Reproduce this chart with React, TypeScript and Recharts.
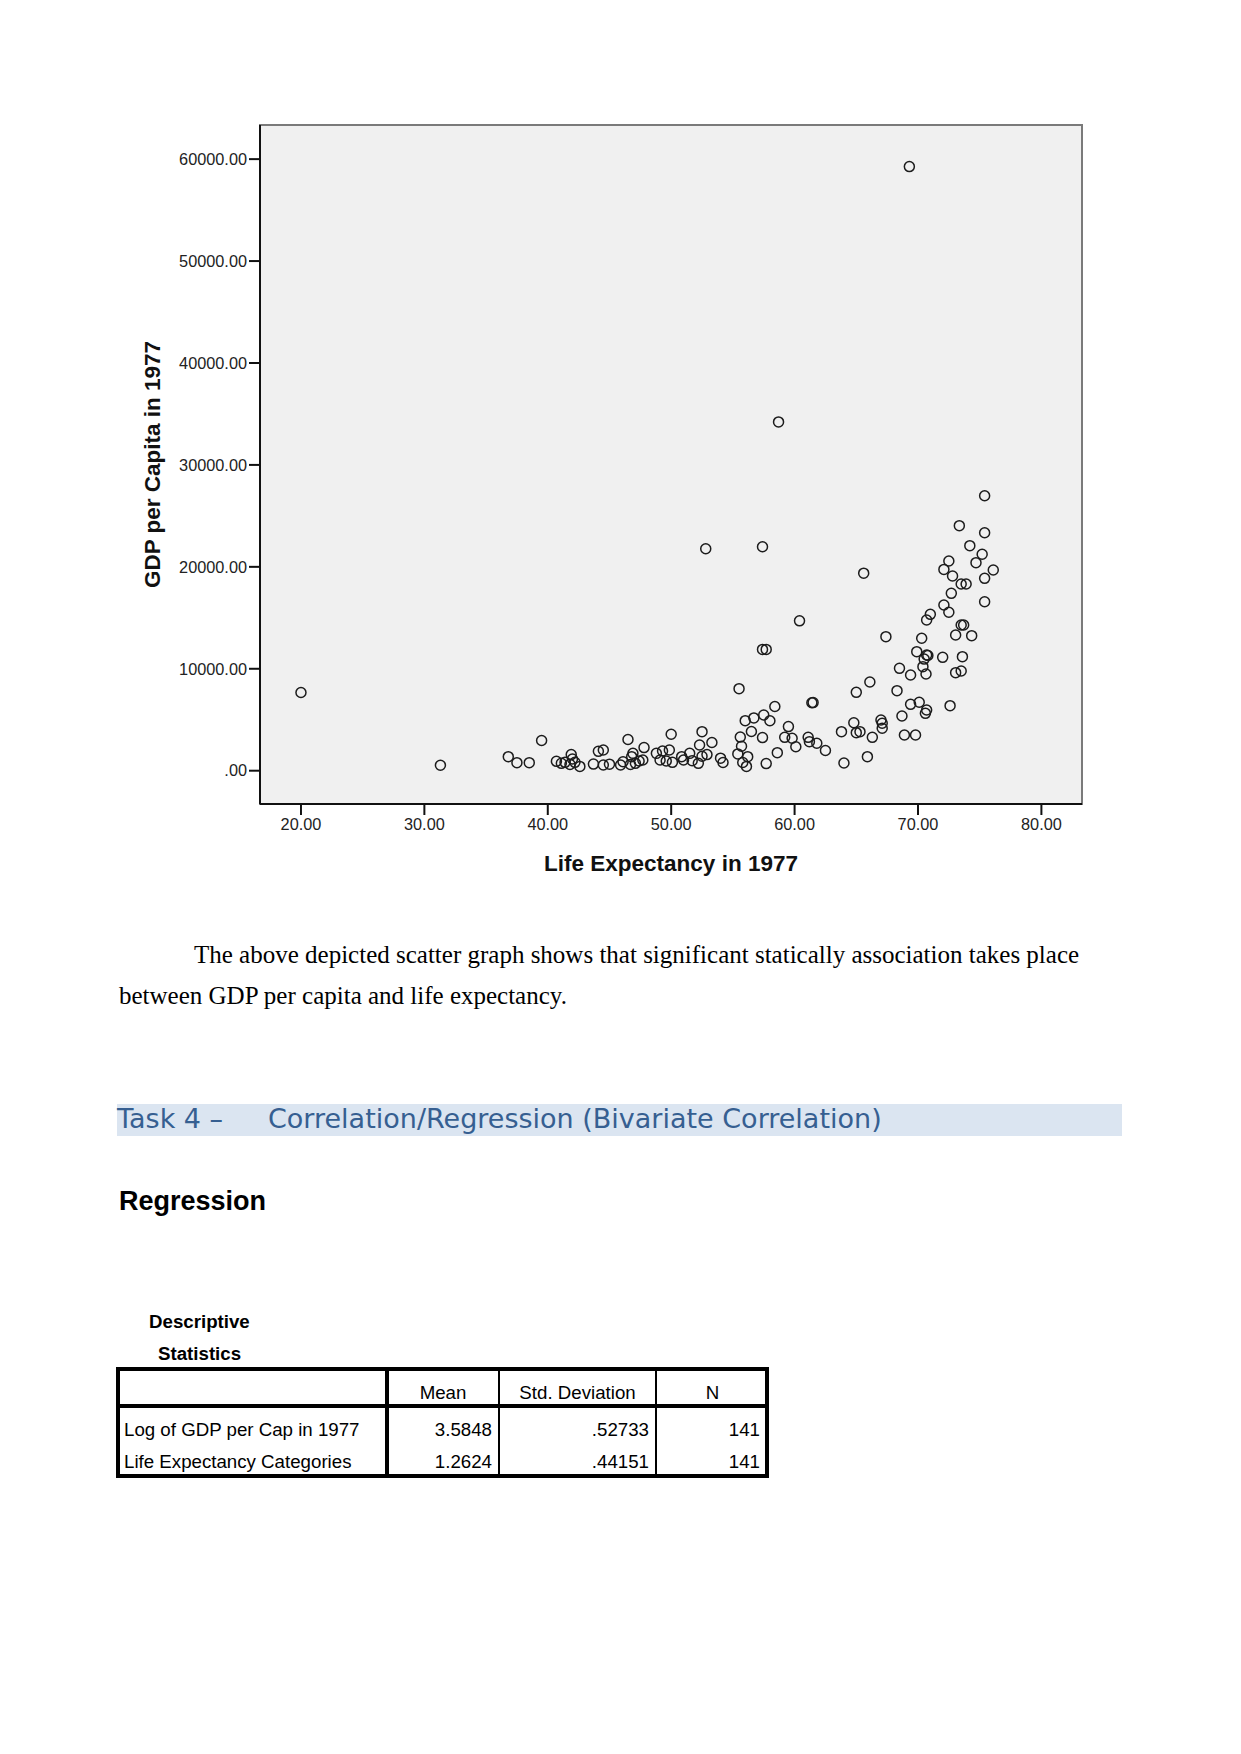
import React from 'react';
import { ScatterChart, Scatter, XAxis, YAxis, ReferenceArea } from 'recharts';

// Life expectancy in 1977 (x) and GDP per capita in 1977 (y)
const lifeExpectancy: number[] = [
  20.0, 31.3, 36.8, 37.5, 38.5, 39.5, 40.7, 41.1, 41.4, 41.8, 41.9, 42.0, 42.2, 42.6, 43.7, 44.1, 44.5, 44.5, 45.0, 45.9,
  46.1, 46.5, 46.8, 46.9, 46.7, 47.1, 47.4, 47.8, 47.7, 48.8, 49.3, 49.85, 49.1, 49.6, 50.1, 50.0, 50.85, 51.5, 51.0, 51.7,
  52.2, 52.5, 52.3, 53.3, 52.9, 52.5, 52.8, 54.0, 54.2,
  60.4, 57.4, 57.7, 55.5, 66.1, 65.0, 61.4, 61.5, 58.4, 57.5, 56.7, 56.0, 58.0, 56.5, 55.6, 57.4, 55.7, 55.4, 56.2, 55.8,
  56.1, 57.7, 58.6, 59.5, 59.2, 59.8, 60.1, 61.1, 61.2, 61.8, 62.5, 63.8, 64.8, 65.0, 65.3, 64.0, 65.9, 66.3, 67.0, 67.1,
  67.1, 68.9, 69.8,
  75.4, 73.35, 75.4, 74.2, 75.2, 74.7, 72.5, 72.1, 76.1, 72.8, 75.4, 73.5, 73.9, 72.7, 75.4, 72.1, 72.5, 71.0, 70.7, 73.5,
  73.7, 67.4, 73.05, 74.35, 70.3, 69.9, 70.7, 70.5, 70.4, 70.65, 72.0, 73.6, 68.5, 69.4, 73.05, 73.5, 68.3, 69.4, 70.1, 70.7,
  70.6, 72.6, 68.7,
  69.3, 58.7, 57.4, 65.6, 70.8,
];

const gdpPerCapita: number[] = [
  7670, 540, 1380, 790, 790, 2960, 920, 720, 820, 620, 1580, 1150, 820, 420, 650, 1900, 2030, 560, 640, 560,
  880, 3060, 1380, 1700, 620, 720, 950, 2270, 1050, 1700, 1930, 2030, 1050, 950, 820, 3580, 1380, 1700, 1050, 985,
  720, 3830, 2520, 2770, 1580, 1420, 21770, 1230, 800,
  14700, 11900, 11900, 8050, 8700, 7690, 6670, 6680, 6300, 5460, 5180, 4910, 4900, 3850, 3300, 3250, 2400, 1650, 1380, 800,
  420, 700, 1770, 4330, 3270, 3180, 2350, 3270, 2850, 2690, 1980, 3830, 4710, 3730, 3830, 750, 1380, 3270, 4970, 4650,
  4160, 3500, 3500,
  26980, 24040, 23350, 22080, 21230, 20410, 20570, 19750, 19690, 19100, 18870, 18320, 18320, 17400, 16580, 16260, 15540, 15340, 14780, 14290,
  14290, 13150, 13310, 13250, 12990, 11680, 11350, 10950, 10210, 9490, 11120, 11190, 10040, 9390, 9620, 9780, 7850, 6510, 6710, 5960,
  5630, 6380, 5370,
  59270, 34220, 21970, 19380, 11300,
];

const xTicks: number[] = [20, 30, 40, 50, 60, 70, 80];
const yTicks: number[] = [0, 10000, 20000, 30000, 40000, 50000, 60000];
const xDomain: [number, number] = [16.68, 83.29];
const yDomain: [number, number] = [-3267, 63348];

const tableHeaders: string[] = ['', 'Mean', 'Std. Deviation', 'N'];
const tableRowLabels: string[] = ['Log of GDP per Cap in 1977', 'Life Expectancy Categories'];
const tableMeans: string[] = ['3.5848', '1.2624'];
const tableStdDevs: string[] = ['.52733', '.44151'];
const tableNs: string[] = ['141', '141'];

const points = lifeExpectancy.map((x, i) => ({ x, y: gdpPerCapita[i] }));

const RingShape = (props: any) => {
  const { cx, cy } = props;
  if (cx == null || cy == null) return null;
  return <circle cx={cx} cy={cy} r={5} fill="none" stroke="#1c1c1c" strokeWidth={1.5} />;
};

const sans = '"Liberation Sans", Arial, sans-serif';
const serif = '"Liberation Serif", "Times New Roman", serif';
const headingFont = '"DejaVu Sans", sans-serif';

const abs = (left: number, top: number, extra: React.CSSProperties = {}): React.CSSProperties => ({
  position: 'absolute',
  left,
  top,
  whiteSpace: 'nowrap',
  ...extra,
});

export default function App() {
  const colX = [116, 387, 499, 656, 769];
  const tableTop = 1367;
  const headerSep = 1405.5;
  const tableBottom = 1478;
  const rowCenters = [1430, 1462];
  const cell: React.CSSProperties = { fontFamily: sans, fontSize: 18.7, lineHeight: '22px', color: '#000' };

  return (
    <div style={{ position: 'absolute', left: 0, top: 0, width: 1241, height: 1754, background: '#fff', overflow: 'hidden' }}>
      <div style={{ position: 'absolute', left: 0, top: 0 }}>
        <ScatterChart width={1241} height={900} margin={{ top: 125, right: 159, bottom: 29, left: 130 }}>
          <ReferenceArea
            x1={xDomain[0]}
            x2={xDomain[1]}
            y1={yDomain[0]}
            y2={yDomain[1]}
            fill="#f0f0f0"
            fillOpacity={1}
            stroke="#7a7a7a"
            strokeWidth={2}
          />
          <XAxis
            type="number"
            dataKey="x"
            domain={xDomain}
            allowDataOverflow
            ticks={xTicks}
            interval={0}
            height={67}
            tickSize={11}
            tickMargin={3}
            tickFormatter={(v: number) => v.toFixed(2)}
            axisLine={{ stroke: '#111', strokeWidth: 2 }}
            tickLine={{ stroke: '#111', strokeWidth: 2 }}
            tick={{ fill: '#222', fontSize: 16.3, fontFamily: sans }}
            label={{
              value: 'Life Expectancy in 1977',
              position: 'insideBottom',
              offset: 0,
              fill: '#111',
              style: { fontWeight: 'bold', fontSize: 22.5, fontFamily: sans, fill: '#111' },
            }}
          />
          <YAxis
            type="number"
            dataKey="y"
            domain={yDomain}
            allowDataOverflow
            ticks={yTicks}
            interval={0}
            width={130}
            tickSize={11}
            tickMargin={2}
            tickFormatter={(v: number) => (v === 0 ? '.00' : v.toFixed(2))}
            axisLine={{ stroke: '#111', strokeWidth: 2 }}
            tickLine={{ stroke: '#111', strokeWidth: 2 }}
            tick={{ fill: '#222', fontSize: 16.3, fontFamily: sans }}
            label={{
              value: 'GDP per Capita in 1977',
              angle: -90,
              position: 'insideLeft',
              offset: 22,
              fill: '#111',
              style: { textAnchor: 'middle', fontWeight: 'bold', fontSize: 22.5, fontFamily: sans, fill: '#111' },
            }}
          />
          <Scatter data={points} shape={RingShape} isAnimationActive={false} />
        </ScatterChart>
      </div>

      {/* Paragraph */}
      <div style={abs(194, 940, { fontFamily: serif, fontSize: 25, lineHeight: '30px', color: '#000' })}>
        The above depicted scatter graph shows that significant statically association takes place
      </div>
      <div style={abs(119, 981, { fontFamily: serif, fontSize: 25, lineHeight: '30px', color: '#000' })}>
        between GDP per capita and life expectancy.
      </div>

      {/* Heading band */}
      <div style={abs(117, 1104, { width: 1005, height: 32, background: '#dbe5f1' })} />
      <div style={abs(117, 1103, { fontFamily: headingFont, fontSize: 27, lineHeight: '32px', color: '#365f91' })}>
        Task 4 –
      </div>
      <div style={abs(268, 1103, { fontFamily: headingFont, fontSize: 27, lineHeight: '32px', color: '#365f91' })}>
        Correlation/Regression (Bivariate Correlation)
      </div>

      <div style={abs(119, 1186, { fontFamily: sans, fontSize: 27, fontWeight: 'bold', lineHeight: '30px', color: '#000' })}>
        Regression
      </div>

      <div style={abs(149, 1311, { fontFamily: sans, fontSize: 18.7, fontWeight: 'bold', lineHeight: '22px', color: '#000' })}>
        Descriptive
      </div>
      <div style={abs(158, 1343, { fontFamily: sans, fontSize: 18.7, fontWeight: 'bold', lineHeight: '22px', color: '#000' })}>
        Statistics
      </div>

      {/* Table */}
      <div style={abs(colX[0], tableTop, { width: colX[4] - colX[0], height: tableBottom - tableTop, border: '4px solid #000', boxSizing: 'border-box' })} />
      <div style={abs(colX[0], headerSep - 2, { width: colX[4] - colX[0], height: 4, background: '#000' })} />
      <div style={abs(colX[1] - 2, tableTop, { width: 4, height: tableBottom - tableTop, background: '#000' })} />
      <div style={abs(colX[2] - 0.75, tableTop, { width: 1.5, height: tableBottom - tableTop, background: '#000' })} />
      <div style={abs(colX[3] - 0.75, tableTop, { width: 1.5, height: tableBottom - tableTop, background: '#000' })} />

      {tableHeaders.map((h, i) =>
        i === 0 ? null : (
          <div key={'h' + i} style={abs(colX[i], 1382, { ...cell, width: colX[i + 1] - colX[i], textAlign: 'center' })}>
            {h}
          </div>
        )
      )}
      {tableRowLabels.map((lab, r) => (
        <React.Fragment key={'r' + r}>
          <div style={abs(124, rowCenters[r] - 11, cell)}>{lab}</div>
          <div style={abs(colX[1], rowCenters[r] - 11, { ...cell, width: colX[2] - colX[1] - 7, textAlign: 'right' })}>{tableMeans[r]}</div>
          <div style={abs(colX[2], rowCenters[r] - 11, { ...cell, width: colX[3] - colX[2] - 7, textAlign: 'right' })}>{tableStdDevs[r]}</div>
          <div style={abs(colX[3], rowCenters[r] - 11, { ...cell, width: colX[4] - colX[3] - 9, textAlign: 'right' })}>{tableNs[r]}</div>
        </React.Fragment>
      ))}
    </div>
  );
}
